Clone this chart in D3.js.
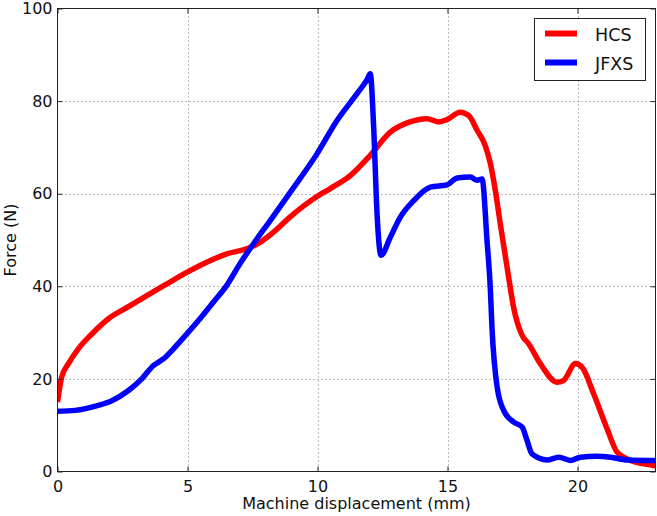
<!DOCTYPE html>
<html>
<head>
<meta charset="utf-8">
<script src="https://cdn.jsdelivr.net/npm/d3@7"></script>
<style>
  html, body { margin: 0; padding: 0; background: #fff; }
  svg { display: block; font-family: "DejaVu Sans", sans-serif; }
</style>
</head>
<body>
<svg id="chart" width="657" height="516"></svg>
<script>
// ---- data ----
const xTicks = [0, 5, 10, 15, 20];
const yTicks = [0, 20, 40, 60, 80, 100];
const seriesNames = ["HCS", "JFXS"];
const seriesColors = ["#ff0000", "#0000ff"];

const hcsX = [0, 0.16, 0.42, 0.8, 1.32, 1.96, 2.73, 3.5, 4.14, 4.97, 5.74, 6.51, 7.28, 7.79, 8.31, 8.95, 9.98, 10.49, 11.26, 12.03, 12.8, 13.5, 14.21, 14.66, 14.98, 15.49, 15.81, 16.14, 16.45, 16.65, 16.84, 17.03, 17.35, 17.54, 17.87, 18.12, 18.57, 19.21, 19.47, 19.92, 20.18, 20.62, 21.14, 21.52, 22.04, 22.93, 23];
const hcsY = [15.0, 20.4, 23.3, 26.5, 29.7, 33.0, 35.6, 38.2, 40.3, 43.0, 45.2, 47.0, 48.1, 49.5, 51.7, 55.0, 59.4, 61.1, 63.9, 68.3, 73.3, 75.4, 76.2, 75.5, 76.0, 77.6, 76.9, 73.7, 70.4, 66.5, 60.7, 53.5, 42.0, 35.5, 29.4, 27.6, 23.3, 19.3, 19.7, 23.3, 22.5, 16.8, 9.2, 4.2, 2.4, 1.3, 1.2];

const jfxsX = [0, 0.67, 1.57, 2.09, 2.73, 3.24, 3.69, 4.07, 4.46, 4.97, 5.48, 6.0, 6.51, 7.02, 7.54, 8.18, 8.95, 9.98, 10.75, 11.52, 11.9, 12.03, 12.16, 12.29, 12.44, 12.8, 13.18, 13.7, 14.34, 14.98, 15.37, 15.88, 16.14, 16.33, 16.52, 16.65, 16.71, 16.91, 17.16, 17.54, 17.87, 18.06, 18.25, 18.83, 19.28, 19.73, 20.11, 20.75, 21.27, 21.91, 23];
const jfxsY = [13.0, 13.2, 14.3, 15.3, 17.5, 20.0, 22.9, 24.3, 26.5, 29.7, 33.0, 36.6, 40.2, 44.9, 49.2, 54.2, 60.3, 68.6, 75.8, 81.6, 84.6, 85.9, 74.4, 55.7, 46.7, 50.6, 54.9, 58.5, 61.4, 61.9, 63.4, 63.6, 62.9, 63.2, 49.9, 39.1, 31.2, 18.2, 13.2, 10.7, 9.6, 6.7, 3.8, 2.5, 3.1, 2.4, 3.1, 3.3, 3.1, 2.5, 2.4];

// ---- layout ----
const svg = d3.select("#chart");
const L = 57.5, R = 655.5, T = 8.5, B = 471.5;
const x = d3.scaleLinear().domain([0, 23]).range([L, R]);
const y = d3.scaleLinear().domain([0, 100]).range([B, T]);

svg.append("defs").append("clipPath").attr("id", "clip")
  .append("rect").attr("x", L).attr("y", T).attr("width", R - L).attr("height", B - T);

// grid
const grid = svg.append("g");
grid.selectAll("line.gx").data(xTicks.filter(d => d > 0)).join("line")
  .attr("x1", d => Math.round(x(d)) + 0.5).attr("x2", d => Math.round(x(d)) + 0.5)
  .attr("y1", T).attr("y2", B)
  .attr("stroke", "#777").attr("stroke-width", 1).attr("stroke-dasharray", "1,3");
grid.selectAll("line.gy").data(yTicks.filter(d => d > 0 && d < 100)).join("line")
  .attr("y1", d => Math.round(y(d)) + 0.5).attr("y2", d => Math.round(y(d)) + 0.5)
  .attr("x1", L).attr("x2", R)
  .attr("stroke", "#777").attr("stroke-width", 1).attr("stroke-dasharray", "1,3");

// lines
const line = d3.line().x(d => x(d[0])).y(d => y(d[1])).curve(d3.curveMonotoneX);
const series = [d3.zip(hcsX, hcsY), d3.zip(jfxsX, jfxsY)];
const lg = svg.append("g").attr("clip-path", "url(#clip)");
series.forEach((s, i) => {
  lg.append("path").datum(s).attr("d", line)
    .attr("fill", "none").attr("stroke", seriesColors[i])
    .attr("stroke-width", 5.5).attr("stroke-linejoin", "round").attr("stroke-linecap", "butt");
});

// axes (ticks inward on all sides)
const fmt = d3.format("d");
const xb = svg.append("g").attr("transform", `translate(0,${B})`)
  .call(d3.axisBottom(x).tickValues(xTicks).tickSizeInner(-5).tickSizeOuter(0).tickPadding(9).tickFormat(fmt));
const xt = svg.append("g").attr("transform", `translate(0,${T})`)
  .call(d3.axisTop(x).tickValues(xTicks).tickSizeInner(-5).tickSizeOuter(0).tickFormat(""));
const yl = svg.append("g").attr("transform", `translate(${L},0)`)
  .call(d3.axisLeft(y).tickValues(yTicks).tickSizeInner(-5).tickSizeOuter(0).tickPadding(5).tickFormat(fmt));
const yr = svg.append("g").attr("transform", `translate(${R},0)`)
  .call(d3.axisRight(y).tickValues(yTicks).tickSizeInner(-5).tickSizeOuter(0).tickFormat(""));
[xb, xt, yl, yr].forEach(g => {
  g.select(".domain").remove();
  g.selectAll(".tick line").attr("stroke", "#222");
  g.selectAll(".tick text").attr("fill", "#111").style("font-size", "16px").style("font-family", "DejaVu Sans");
});
xb.selectAll(".tick text").attr("dy", "0.71em");

// frame
svg.append("rect").attr("x", L).attr("y", T).attr("width", R - L).attr("height", B - T)
  .attr("fill", "none").attr("stroke", "#222").attr("stroke-width", 1);

// axis labels
svg.append("text").attr("x", (L + R) / 2).attr("y", 509).attr("text-anchor", "middle")
  .style("font-size", "16px").attr("fill", "#111").text("Machine displacement (mm)");
svg.append("text").attr("transform", `translate(16,${(T + B) / 2}) rotate(-90)`).attr("text-anchor", "middle")
  .style("font-size", "16px").attr("fill", "#111").text("Force (N)");

// legend
const leg = svg.append("g");
leg.append("rect").attr("x", 534.5).attr("y", 18.5).attr("width", 111).attr("height", 62)
  .attr("fill", "#fff").attr("stroke", "#222").attr("stroke-width", 1);
seriesNames.forEach((n, i) => {
  const cy = 33.5 + i * 29;
  leg.append("line").attr("x1", 545).attr("x2", 577).attr("y1", cy).attr("y2", cy)
    .attr("stroke", seriesColors[i]).attr("stroke-width", 6);
  leg.append("text").attr("x", 595).attr("y", cy + 7.5).style("font-size", "17.5px")
    .attr("fill", "#111").text(n);
});
</script>
</body>
</html>
